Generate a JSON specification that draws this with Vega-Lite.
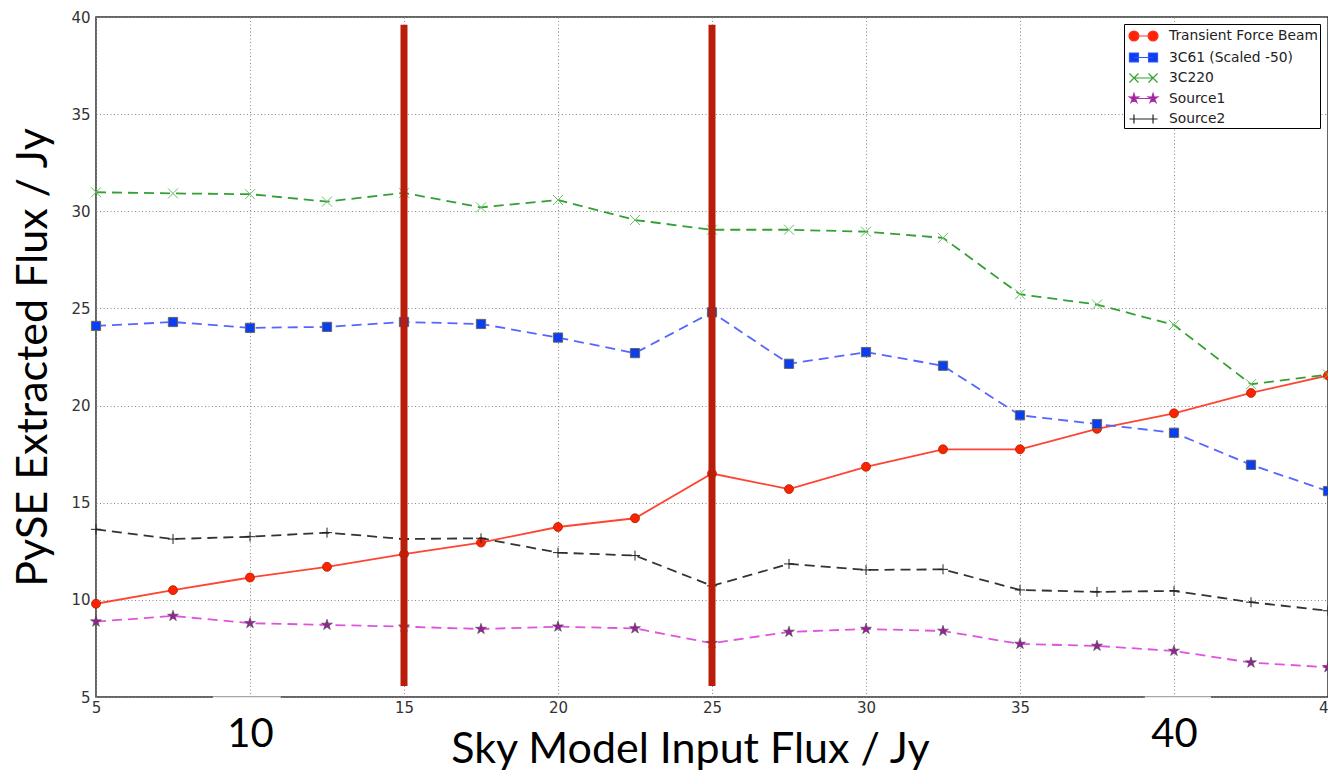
{
  "$schema": "https://vega.github.io/schema/vega-lite/v6.json",
  "width": 1232,
  "height": 680,
  "autosize": {"type": "none"},
  "padding": {"left": 96, "top": 17, "right": 0, "bottom": 74},
  "background": "#ffffff",
  "config": {
    "view": {"stroke": "#333333", "strokeWidth": 1.5},
    "axis": {"labelFlush": false, "labelOverlap": false, "labelBound": false}
  },
  "datasets": {
    "flux": [
      {"x": 5, "y": 9.8, "series": "Transient Force Beam"},
      {"x": 7.5, "y": 10.5, "series": "Transient Force Beam"},
      {"x": 10, "y": 11.15, "series": "Transient Force Beam"},
      {"x": 12.5, "y": 11.7, "series": "Transient Force Beam"},
      {"x": 15, "y": 12.35, "series": "Transient Force Beam"},
      {"x": 17.5, "y": 12.95, "series": "Transient Force Beam"},
      {"x": 20, "y": 13.75, "series": "Transient Force Beam"},
      {"x": 22.5, "y": 14.2, "series": "Transient Force Beam"},
      {"x": 25, "y": 16.5, "series": "Transient Force Beam"},
      {"x": 27.5, "y": 15.7, "series": "Transient Force Beam"},
      {"x": 30, "y": 16.85, "series": "Transient Force Beam"},
      {"x": 32.5, "y": 17.75, "series": "Transient Force Beam"},
      {"x": 35, "y": 17.75, "series": "Transient Force Beam"},
      {"x": 37.5, "y": 18.8, "series": "Transient Force Beam"},
      {"x": 40, "y": 19.6, "series": "Transient Force Beam"},
      {"x": 42.5, "y": 20.65, "series": "Transient Force Beam"},
      {"x": 45, "y": 21.55, "series": "Transient Force Beam"},
      {"x": 5, "y": 24.1, "series": "3C61 (Scaled -50)"},
      {"x": 7.5, "y": 24.3, "series": "3C61 (Scaled -50)"},
      {"x": 10, "y": 24.0, "series": "3C61 (Scaled -50)"},
      {"x": 12.5, "y": 24.05, "series": "3C61 (Scaled -50)"},
      {"x": 15, "y": 24.3, "series": "3C61 (Scaled -50)"},
      {"x": 17.5, "y": 24.2, "series": "3C61 (Scaled -50)"},
      {"x": 20, "y": 23.5, "series": "3C61 (Scaled -50)"},
      {"x": 22.5, "y": 22.7, "series": "3C61 (Scaled -50)"},
      {"x": 25, "y": 24.8, "series": "3C61 (Scaled -50)"},
      {"x": 27.5, "y": 22.15, "series": "3C61 (Scaled -50)"},
      {"x": 30, "y": 22.75, "series": "3C61 (Scaled -50)"},
      {"x": 32.5, "y": 22.05, "series": "3C61 (Scaled -50)"},
      {"x": 35, "y": 19.5, "series": "3C61 (Scaled -50)"},
      {"x": 37.5, "y": 19.05, "series": "3C61 (Scaled -50)"},
      {"x": 40, "y": 18.6, "series": "3C61 (Scaled -50)"},
      {"x": 42.5, "y": 16.95, "series": "3C61 (Scaled -50)"},
      {"x": 45, "y": 15.6, "series": "3C61 (Scaled -50)"},
      {"x": 5, "y": 30.98, "series": "3C220"},
      {"x": 7.5, "y": 30.92, "series": "3C220"},
      {"x": 10, "y": 30.88, "series": "3C220"},
      {"x": 12.5, "y": 30.5, "series": "3C220"},
      {"x": 15, "y": 30.95, "series": "3C220"},
      {"x": 17.5, "y": 30.2, "series": "3C220"},
      {"x": 20, "y": 30.58, "series": "3C220"},
      {"x": 22.5, "y": 29.55, "series": "3C220"},
      {"x": 25, "y": 29.05, "series": "3C220"},
      {"x": 27.5, "y": 29.05, "series": "3C220"},
      {"x": 30, "y": 28.95, "series": "3C220"},
      {"x": 32.5, "y": 28.63, "series": "3C220"},
      {"x": 35, "y": 25.73, "series": "3C220"},
      {"x": 37.5, "y": 25.2, "series": "3C220"},
      {"x": 40, "y": 24.15, "series": "3C220"},
      {"x": 42.5, "y": 21.1, "series": "3C220"},
      {"x": 45, "y": 21.6, "series": "3C220"},
      {"x": 5, "y": 8.88, "series": "Source1"},
      {"x": 7.5, "y": 9.17, "series": "Source1"},
      {"x": 10, "y": 8.8, "series": "Source1"},
      {"x": 12.5, "y": 8.71, "series": "Source1"},
      {"x": 15, "y": 8.62, "series": "Source1"},
      {"x": 17.5, "y": 8.5, "series": "Source1"},
      {"x": 20, "y": 8.62, "series": "Source1"},
      {"x": 22.5, "y": 8.53, "series": "Source1"},
      {"x": 25, "y": 7.77, "series": "Source1"},
      {"x": 27.5, "y": 8.35, "series": "Source1"},
      {"x": 30, "y": 8.5, "series": "Source1"},
      {"x": 32.5, "y": 8.4, "series": "Source1"},
      {"x": 35, "y": 7.73, "series": "Source1"},
      {"x": 37.5, "y": 7.63, "series": "Source1"},
      {"x": 40, "y": 7.37, "series": "Source1"},
      {"x": 42.5, "y": 6.77, "series": "Source1"},
      {"x": 45, "y": 6.53, "series": "Source1"},
      {"x": 5, "y": 13.63, "series": "Source2"},
      {"x": 7.5, "y": 13.13, "series": "Source2"},
      {"x": 10, "y": 13.25, "series": "Source2"},
      {"x": 12.5, "y": 13.46, "series": "Source2"},
      {"x": 15, "y": 13.13, "series": "Source2"},
      {"x": 17.5, "y": 13.17, "series": "Source2"},
      {"x": 20, "y": 12.43, "series": "Source2"},
      {"x": 22.5, "y": 12.28, "series": "Source2"},
      {"x": 25, "y": 10.72, "series": "Source2"},
      {"x": 27.5, "y": 11.85, "series": "Source2"},
      {"x": 30, "y": 11.54, "series": "Source2"},
      {"x": 32.5, "y": 11.57, "series": "Source2"},
      {"x": 35, "y": 10.51, "series": "Source2"},
      {"x": 37.5, "y": 10.41, "series": "Source2"},
      {"x": 40, "y": 10.46, "series": "Source2"},
      {"x": 42.5, "y": 9.88, "series": "Source2"},
      {"x": 45, "y": 9.44, "series": "Source2"}
    ]
  },
  "resolve": {"axis": {"x": "independent"}},
  "layer": [
    {
      "data": {"name": "flux"},
      "transform": [{"filter": "datum.series === 'Transient Force Beam'"}],
      "mark": {"type": "line", "strokeWidth": 1.8, "color": "#ff4433", "clip": false},
      "encoding": {
        "x": {
          "field": "x", "type": "quantitative",
          "scale": {"domain": [5, 45], "nice": false, "zero": false},
          "axis": {
            "values": [5, 10, 15, 20, 25, 30, 35, 40, 45],
            "labelExpr": "datum.value == 10 || datum.value == 40 ? '' : datum.label",
            "orient": "bottom",
            "grid": true, "gridColor": "#888888", "gridDash": [1, 2.5], "gridWidth": 1,
            "ticks": false, "domain": false,
            "labelFont": "DejaVu Sans", "labelFontSize": 15, "labelColor": "#333333", "labelPadding": 3,
            "title": "Sky Model Input Flux / Jy",
            "titleFont": "Lato", "titleFontSize": 43, "titleFontWeight": "normal", "titleColor": "#000000",
            "titleX": 594, "titleY": 65, "titleBaseline": "alphabetic", "titleAlign": "center", "titleAnchor": "start"
          }
        },
        "y": {
          "field": "y", "type": "quantitative",
          "scale": {"domain": [5, 40], "nice": false, "zero": false},
          "axis": {
            "values": [5, 10, 15, 20, 25, 30, 35, 40],
            "orient": "left",
            "grid": true, "gridColor": "#888888", "gridDash": [1, 2.5], "gridWidth": 1,
            "ticks": false, "domain": false,
            "labelFont": "DejaVu Sans", "labelFontSize": 15, "labelColor": "#333333", "labelPadding": 6,
            "title": "PySE Extracted Flux / Jy",
            "titleFont": "Lato", "titleFontSize": 43, "titleFontWeight": "normal", "titleColor": "#000000",
            "titleX": -50, "titleBaseline": "alphabetic", "titleAngle": 270
          }
        }
      }
    },
    {
      "data": {"name": "flux"},
      "transform": [{"filter": "datum.series === '3C61 (Scaled -50)'"}],
      "mark": {"type": "line", "strokeWidth": 1.8, "color": "#5566ff", "strokeDash": [10, 6], "clip": false},
      "encoding": {
        "x": {"field": "x", "type": "quantitative", "axis": null},
        "y": {"field": "y", "type": "quantitative"}
      }
    },
    {
      "data": {"name": "flux"},
      "transform": [{"filter": "datum.series === '3C220'"}],
      "mark": {"type": "line", "strokeWidth": 1.8, "color": "#33a033", "strokeDash": [10, 6], "clip": false},
      "encoding": {
        "x": {"field": "x", "type": "quantitative", "axis": null},
        "y": {"field": "y", "type": "quantitative"}
      }
    },
    {
      "data": {"name": "flux"},
      "transform": [{"filter": "datum.series === 'Source1'"}],
      "mark": {"type": "line", "strokeWidth": 1.8, "color": "#dd55dd", "strokeDash": [10, 6], "clip": false},
      "encoding": {
        "x": {"field": "x", "type": "quantitative", "axis": null},
        "y": {"field": "y", "type": "quantitative"}
      }
    },
    {
      "data": {"name": "flux"},
      "transform": [{"filter": "datum.series === 'Source2'"}],
      "mark": {"type": "line", "strokeWidth": 1.8, "color": "#333333", "strokeDash": [10, 6], "clip": false},
      "encoding": {
        "x": {"field": "x", "type": "quantitative", "axis": null},
        "y": {"field": "y", "type": "quantitative"}
      }
    },
    {
      "data": {"name": "flux"},
      "transform": [{"filter": "datum.series === 'Transient Force Beam'"}],
      "mark": {"type": "point", "shape": "circle", "size": 80, "filled": true, "fill": "#ff2200", "stroke": "#aa2200", "strokeWidth": 0.8, "opacity": 1, "clip": false},
      "encoding": {
        "x": {"field": "x", "type": "quantitative", "axis": null},
        "y": {"field": "y", "type": "quantitative"}
      }
    },
    {
      "data": {"name": "flux"},
      "transform": [{"filter": "datum.series === '3C61 (Scaled -50)'"}],
      "mark": {"type": "point", "shape": "square", "size": 85, "filled": true, "fill": "#0a3ef0", "stroke": "#666666", "strokeWidth": 1, "opacity": 1, "clip": false},
      "encoding": {
        "x": {"field": "x", "type": "quantitative", "axis": null},
        "y": {"field": "y", "type": "quantitative"}
      }
    },
    {
      "data": {"name": "flux"},
      "transform": [{"filter": "datum.series === '3C220'"}],
      "mark": {"type": "point", "shape": "M-1,-1L1,1M-1,1L1,-1", "size": 100, "filled": false, "stroke": "#66c066", "strokeWidth": 1, "opacity": 1, "clip": false},
      "encoding": {
        "x": {"field": "x", "type": "quantitative", "axis": null},
        "y": {"field": "y", "type": "quantitative"}
      }
    },
    {
      "data": {"name": "flux"},
      "transform": [{"filter": "datum.series === 'Source1'"}],
      "mark": {"type": "point", "shape": "M0,-1L0.2235,-0.3074L0.951,-0.309L0.3614,0.1174L0.588,0.809L0,0.38L-0.588,0.809L-0.3614,0.1174L-0.951,-0.309L-0.2235,-0.3074Z", "size": 130, "filled": true, "fill": "#9a1f9a", "stroke": "#444444", "strokeWidth": 0.6, "opacity": 1, "clip": false},
      "encoding": {
        "x": {"field": "x", "type": "quantitative", "axis": null},
        "y": {"field": "y", "type": "quantitative"}
      }
    },
    {
      "data": {"name": "flux"},
      "transform": [{"filter": "datum.series === 'Source2'"}],
      "mark": {"type": "point", "shape": "M-1,0L1,0M0,-1L0,1", "size": 100, "filled": false, "stroke": "#222222", "strokeWidth": 1, "opacity": 1, "clip": false},
      "encoding": {
        "x": {"field": "x", "type": "quantitative", "axis": null},
        "y": {"field": "y", "type": "quantitative"}
      }
    },
    {
      "data": {"name": "flux"},
      "mark": {"type": "point", "filled": true, "opacity": 0},
      "encoding": {
        "x": {"field": "x", "type": "quantitative", "axis": null},
        "y": {"field": "y", "type": "quantitative"},
        "stroke": {
          "field": "series", "type": "nominal",
          "scale": {
            "domain": ["Transient Force Beam", "3C61 (Scaled -50)", "3C220", "Source1", "Source2"],
            "range": ["#ff3322", "#3355ff", "#33a033", "#aa33aa", "#222222"]
          },
          "legend": {
            "title": null, "orient": "none", "legendX": 1028, "legendY": 7,
            "strokeColor": "#000000", "fillColor": "#ffffff", "padding": 2, "rowPadding": 3.5,
            "symbolSize": 324, "symbolStrokeWidth": 1.2, "symbolOffset": 7.5, "labelOffset": 15.5, "symbolOpacity": 1,
            "labelFont": "DejaVu Sans", "labelFontSize": 13.8, "labelColor": "#222222"
          }
        },
        "fill": {
          "field": "series", "type": "nominal",
          "scale": {
            "domain": ["Transient Force Beam", "3C61 (Scaled -50)", "3C220", "Source1", "Source2"],
            "range": ["#ff2200", "#0a3ef0", "#66c066", "#9a1f9a", "#222222"]
          },
          "legend": {
            "title": null, "orient": "none", "legendX": 1028, "legendY": 7,
            "strokeColor": "#000000", "fillColor": "#ffffff", "padding": 2, "rowPadding": 3.5,
            "symbolSize": 324, "symbolStrokeWidth": 1.2, "symbolOffset": 7.5, "labelOffset": 15.5, "symbolOpacity": 1,
            "labelFont": "DejaVu Sans", "labelFontSize": 13.8, "labelColor": "#222222"
          }
        },
        "shape": {
          "field": "series", "type": "nominal",
          "scale": {
            "domain": ["Transient Force Beam", "3C61 (Scaled -50)", "3C220", "Source1", "Source2"],
            "range": [
              "M-1.06,0L1.06,0M-0.51,0A0.55,0.55 0 1,1 -1.61,0A0.55,0.55 0 1,1 -0.51,0ZM1.61,0A0.55,0.55 0 1,1 0.51,0A0.55,0.55 0 1,1 1.61,0Z",
              "M-1.06,0L1.06,0M-1.56,-0.5H-0.56V0.5H-1.56ZM0.56,-0.5H1.56V0.5H0.56Z",
              "M-1.06,0L1.06,0M-1.56,-0.5L-0.56,0.5M-1.56,0.5L-0.56,-0.5M0.56,-0.5L1.56,0.5M0.56,0.5L1.56,-0.5",
              "M-1.06,0L1.06,0M-1.06,-0.55L-0.937,-0.169L-0.537,-0.17L-0.861,0.065L-0.737,0.445L-1.06,0.209L-1.383,0.445L-1.259,0.065L-1.583,-0.17L-1.183,-0.169ZM1.06,-0.55L1.183,-0.169L1.583,-0.17L1.259,0.065L1.383,0.445L1.06,0.209L0.737,0.445L0.861,0.065L0.537,-0.17L0.937,-0.169Z",
              "M-1.06,0L1.06,0M-1.56,0H-0.56M-1.06,-0.5V0.5M0.56,0H1.56M1.06,-0.5V0.5"
            ]
          },
          "legend": {
            "title": null, "orient": "none", "legendX": 1028, "legendY": 7,
            "strokeColor": "#000000", "fillColor": "#ffffff", "padding": 2, "rowPadding": 3.5,
            "symbolSize": 324, "symbolStrokeWidth": 1.2, "symbolOffset": 7.5, "labelOffset": 15.5, "symbolOpacity": 1,
            "labelFont": "DejaVu Sans", "labelFontSize": 13.8, "labelColor": "#222222"
          }
        }
      }
    },
    {
      "data": {"values": [
        {"x": 8.8, "x2": 11.0},
        {"x": 39.05, "x2": 41.2}
      ]},
      "mark": {"type": "rect", "color": "#ffffff", "opacity": 0.85, "clip": false},
      "encoding": {
        "x": {"field": "x", "type": "quantitative", "axis": null},
        "x2": {"field": "x2"},
        "y": {"datum": 4.86},
        "y2": {"datum": 5.03}
      }
    },
    {
      "data": {"values": [
        {"x": 15, "y": 5.57, "y2": 39.6},
        {"x": 25, "y": 5.57, "y2": 39.6}
      ]},
      "mark": {"type": "rule", "strokeWidth": 7, "color": "#b81e0a", "clip": false},
      "encoding": {
        "x": {
          "field": "x", "type": "quantitative",
          "scale": {"domain": [5, 45], "nice": false, "zero": false},
          "axis": {
            "values": [10, 40], "orient": "bottom",
            "grid": false, "ticks": false, "domain": false,
            "labelFont": "Lato", "labelFontSize": 40, "labelColor": "#000000", "labelPadding": 17,
            "title": null
          }
        },
        "y": {"field": "y", "type": "quantitative"},
        "y2": {"field": "y2"}
      }
    }
  ]
}
